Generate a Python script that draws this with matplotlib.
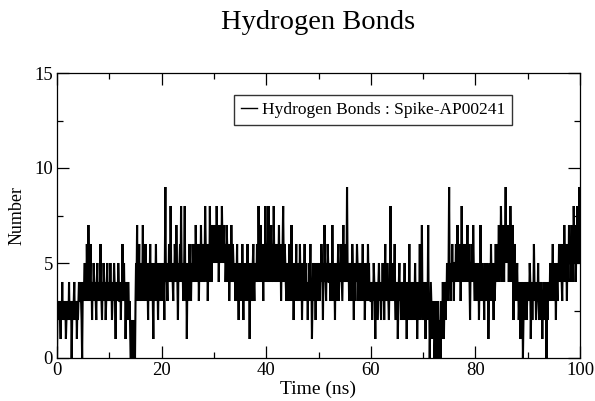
import numpy as np
import matplotlib
matplotlib.use("Agg")
import matplotlib.pyplot as plt
from matplotlib.ticker import MultipleLocator

hbonds = [
    0,3,2,3,2,3,2,1,3,2,4,2,3,2,3,2,3,1,2,3,
    2,3,2,4,2,3,2,3,0,2,3,2,3,4,2,3,2,3,1,3,
    2,3,4,3,3,4,3,2,0,3,4,3,4,5,3,4,3,6,4,3,
    7,4,3,4,6,3,4,2,4,3,5,4,3,4,3,2,4,5,3,4,
    3,4,3,6,4,3,2,4,3,5,4,3,4,2,3,4,5,3,4,3,
    4,3,5,3,4,2,3,4,3,5,4,3,1,4,3,4,3,5,4,3,
    3,4,2,4,3,6,4,3,5,3,4,1,3,4,3,2,4,3,2,3,
    1,0,2,1,0,1,2,0,1,0,3,5,4,7,3,5,4,6,3,5,
    4,3,5,4,7,3,5,4,3,6,4,5,3,4,2,5,3,4,6,4,
    3,5,4,3,1,4,5,3,4,6,3,5,4,2,4,5,3,4,5,3,
    4,5,3,5,4,2,5,9,4,5,4,3,5,4,6,5,4,8,5,4,
    5,4,3,5,4,6,5,4,7,5,4,2,5,4,5,6,4,8,5,4,
    5,3,4,5,8,4,3,5,1,4,5,3,4,6,5,4,3,5,4,6,
    5,4,6,5,4,7,5,6,4,5,6,3,5,6,4,7,5,4,6,5,
    6,4,5,8,6,5,4,6,3,5,6,4,8,5,6,4,5,7,6,5,
    6,5,7,6,5,8,6,5,7,4,6,5,7,6,5,8,6,5,7,6,
    5,6,4,5,7,6,4,5,6,3,5,6,4,7,5,4,6,5,4,5,
    4,3,5,4,6,3,4,2,5,4,3,5,4,3,6,4,2,5,3,4,
    4,5,3,4,6,3,5,4,1,4,3,5,4,3,5,6,4,3,5,4,
    5,4,6,5,4,8,5,6,4,7,5,4,6,5,3,6,5,4,8,5,
    6,5,4,6,8,5,4,6,5,7,4,5,6,4,8,5,6,4,5,6,
    5,4,6,5,7,4,5,6,3,5,4,6,8,5,4,6,5,4,3,5,
    4,5,3,4,6,3,5,4,7,3,4,5,2,4,3,5,4,6,3,4,
    3,5,4,3,6,4,3,5,2,4,3,5,4,6,3,4,5,3,4,2,
    4,3,5,4,6,3,4,1,3,5,4,3,5,4,2,4,3,5,4,3,
    5,4,3,5,4,6,5,4,2,5,4,7,5,4,3,5,4,6,5,4,
    4,5,3,4,5,3,7,4,5,3,4,2,5,4,3,5,4,6,3,4,
    5,4,6,5,4,3,5,7,4,5,4,6,5,4,9,5,4,5,3,5,
    4,5,3,4,6,5,4,2,5,4,3,5,4,6,5,4,3,5,4,5,
    4,3,5,4,6,3,4,5,2,4,3,5,4,3,6,4,5,3,4,3,
    3,4,2,4,3,5,4,3,1,4,3,4,2,3,4,5,3,4,3,2,
    4,3,5,3,4,2,4,6,3,4,3,5,4,3,2,4,3,8,4,3,
    4,3,5,3,4,6,3,2,4,3,4,1,3,4,5,3,4,2,3,4,
    3,2,4,3,5,2,4,3,1,3,4,2,3,6,3,2,4,3,2,3,
    3,4,2,3,5,3,2,4,1,3,2,4,3,6,2,3,4,7,3,2,
    3,2,4,3,1,3,2,4,3,7,2,3,0,2,4,3,2,1,3,2,
    2,0,1,3,1,0,2,1,3,2,0,1,2,0,3,1,2,4,2,1,
    3,4,2,4,3,5,4,3,5,9,4,5,3,5,4,6,4,5,3,5,
    5,4,6,5,4,7,5,6,4,5,6,3,5,8,5,4,6,5,4,6,
    5,4,6,5,7,4,5,6,4,2,5,4,6,5,4,7,5,4,3,5,
    4,3,5,4,3,5,2,4,3,7,4,3,5,4,3,4,2,5,3,4,
    4,3,5,4,1,3,4,5,3,6,4,3,5,4,2,5,3,4,6,4,
    5,4,6,5,7,4,6,5,8,6,4,7,5,6,4,7,6,9,5,6,
    6,5,7,4,6,5,8,6,4,5,7,6,2,5,6,4,5,3,4,5,
    3,4,2,3,4,1,3,2,4,3,0,2,3,4,2,3,4,2,3,4,
    3,4,3,5,4,1,3,4,2,4,3,6,4,3,4,2,3,4,3,5,
    3,2,4,3,2,4,3,1,3,2,4,3,2,3,4,0,3,2,4,3,
    4,3,5,4,3,5,4,6,3,4,5,3,4,2,5,4,3,5,4,6,
    5,4,6,5,4,3,5,6,4,7,5,4,6,5,3,6,5,4,7,5,
    5,6,4,7,5,6,4,8,6,5,7,4,6,5,8,6,7,5,9,7,
]
time_ns = np.linspace(0, 100, len(hbonds))

title = "Hydrogen Bonds"
legend_label = "Hydrogen Bonds : Spike-AP00241"
xlabel = "Time (ns)"
ylabel = "Number"

plt.rcParams['font.family'] = ['Liberation Serif', 'DejaVu Serif']

fig = plt.figure(figsize=(5.95, 4.01), dpi=100)
ax = fig.add_axes([57/595, 1-358/401, (580-57)/595, (358-73)/401])
ax.plot(time_ns, hbonds, color='black', lw=1.5, label=legend_label,
        solid_joinstyle='miter')

ax.set_xlim(0, 100)
ax.set_ylim(0, 15)
ax.xaxis.set_major_locator(MultipleLocator(20))
ax.xaxis.set_minor_locator(MultipleLocator(10))
ax.yaxis.set_major_locator(MultipleLocator(5))
ax.yaxis.set_minor_locator(MultipleLocator(2.5))
ax.tick_params(which='both', direction='in', top=True, right=True, labelsize=13.5, pad=3)
ax.tick_params(which='major', length=8.5, width=0.9)
ax.tick_params(which='minor', length=4.5, width=0.9)
for s in ax.spines.values():
    s.set_linewidth(0.9)

ax.set_xlabel(xlabel, fontsize=14, labelpad=1)
ax.set_ylabel(ylabel, fontsize=13, labelpad=6)
fig.suptitle(title, fontsize=20.5, x=(57+580)/2/595, y=0.975, va='top')

leg = ax.legend(loc='upper left', bbox_to_anchor=((234-57)/523, 1-(95-73)/285),
                fontsize=12.5, frameon=True, fancybox=False, handlelength=0.9,
                handletextpad=0.3, borderpad=0.4, borderaxespad=0)
leg.get_frame().set_edgecolor('black')
leg.get_frame().set_linewidth(1.0)
leg.get_lines()[0].set_linewidth(1.0)

fig.savefig("out.png", dpi=100)
